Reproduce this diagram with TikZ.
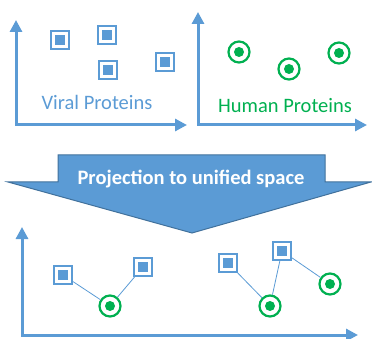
\documentclass[tikz,border=0pt]{standalone}
\usepackage{fontspec}
\setmainfont{Carlito}
\usepackage{tikz}
\usetikzlibrary{arrows.meta}
\definecolor{vblue}{RGB}{91,155,213}
\definecolor{vdark}{RGB}{65,113,156}
\definecolor{hgreen}{RGB}{0,176,80}

\begin{document}
\begin{tikzpicture}[x=1pt,y=-1pt,
  viral/.style={draw=vblue,line width=2pt,fill=white,minimum size=18pt,inner sep=0pt,
    path picture={\fill[vblue] (path picture bounding box.center) +(-5pt,-5pt) rectangle +(5pt,5pt);}},
  human/.style={circle,draw=hgreen,line width=2.2pt,fill=white,minimum size=21pt,inner sep=0pt,
    path picture={\fill[hgreen] (path picture bounding box.center) circle (5pt);}},
  axis/.style={draw=vblue,line width=3pt,{Triangle[width=12pt,length=12pt]}-{Triangle[width=12pt,length=12pt]}},
  link/.style={draw=vblue,line width=0.8pt},
  lbl/.style={font=\fontsize{20.5}{24}\selectfont}
]
\useasboundingbox (0,0) rectangle (372,339);
% viral proteins
\coordinate (vy) at (16,20);
\coordinate (vo) at (16,125);
\coordinate (vx) at (187,125);
\draw[axis] (vy) -- (vo) -- (vx);
\node[viral] (v1) at (60,40) {};
\node[viral] (v2) at (107,35) {};
\node[viral] (v3) at (108,70) {};
\node[viral] (v4) at (165,62) {};
\node[lbl,text=vblue] (vlab) at (97,102) {Viral Proteins};
% human proteins
\coordinate (hy) at (198,12);
\coordinate (ho) at (198,125);
\coordinate (hx) at (367,125);
\draw[axis] (hy) -- (ho) -- (hx);
\node[human] (h1) at (239,52) {};
\node[human] (h2) at (289,69) {};
\node[human] (h3) at (339,53) {};
\node[lbl,text=hgreen] (hlab) at (285,106) {Human Proteins};
% projection arrow
\fill[vblue,draw=vdark,line width=1pt] (58,155) -- (325,155) -- (325,182) -- (371,182)
  -- (192,233) -- (8,182) -- (58,182) -- cycle;
\node[lbl,text=white,font=\fontsize{20.5}{24}\selectfont\bfseries] (proj) at (191,179) {Projection to unified space};
% unified space
\coordinate (uy) at (22,227);
\coordinate (uo) at (22,335);
\coordinate (ux) at (358,335);
\draw[axis] (uy) -- (uo) -- (ux);
\node[viral] (s1) at (63,275) {};
\node[viral] (s2) at (143,267) {};
\node[viral] (s3) at (228,263) {};
\node[viral] (s4) at (282,251) {};
\node[human] (c1) at (110,306) {};
\node[human] (c2) at (270,306) {};
\node[human] (c3) at (330,284) {};
\draw[link] (s1) -- (c1);
\draw[link] (s2) -- (c1);
\draw[link] (s3) -- (c2);
\draw[link] (s4) -- (c2);
\draw[link] (s4) -- (c3);
\end{tikzpicture}
\end{document}
